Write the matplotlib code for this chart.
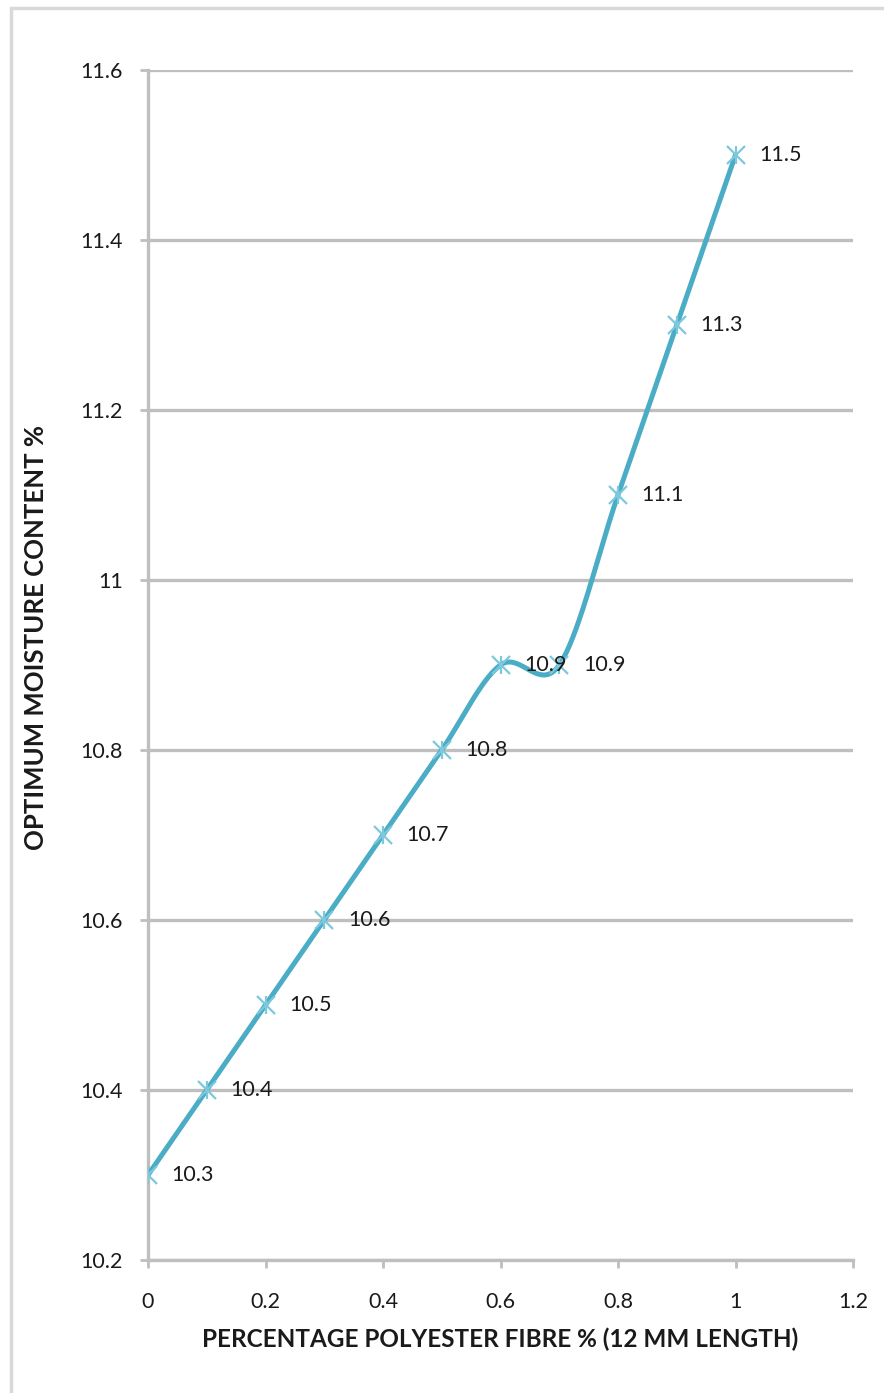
import numpy as np
import matplotlib
matplotlib.use("Agg")
import matplotlib.pyplot as plt
from matplotlib.patches import Rectangle

fibre = [0, 0.1, 0.2, 0.3, 0.4, 0.5, 0.6, 0.7, 0.8, 0.9, 1.0]
moisture = [10.3, 10.4, 10.5, 10.6, 10.7, 10.8, 10.9, 10.9, 11.1, 11.3, 11.5]
x_ticks = [0, 0.2, 0.4, 0.6, 0.8, 1.0, 1.2]
x_tick_labels = ["0", "0.2", "0.4", "0.6", "0.8", "1", "1.2"]
y_ticks = [10.2, 10.4, 10.6, 10.8, 11.0, 11.2, 11.4, 11.6]
y_tick_labels = ["10.2", "10.4", "10.6", "10.8", "11", "11.2", "11.4", "11.6"]
x_label = "PERCENTAGE POLYESTER FIBRE % (12 MM LENGTH)"
y_label = "OPTIMUM MOISTURE CONTENT %"

plt.rcParams['font.family'] = ['Lato', 'DejaVu Sans']
W, H = 884, 1393
fig = plt.figure(figsize=(W / 100, H / 100), dpi=100)
fig.patches.append(Rectangle((11 / W, -0.1), 1.2, (H - 8) / H + 0.1,
                             transform=fig.transFigure, fill=False,
                             edgecolor='#d9d9d9', linewidth=2.5))

ax = fig.add_axes([148 / W, 1 - 1260 / H, (853 - 148) / W, (1260 - 70) / H])

color = '#4bacc6'


def catmull_rom(xs, ys, n=30, tension=0.5):
    xs = np.asarray(xs, float)
    ys = np.asarray(ys, float)
    px = np.concatenate([[xs[0]], xs, [xs[-1]]])
    py = np.concatenate([[ys[0]], ys, [ys[-1]]])
    outx, outy = [], []
    for i in range(1, len(px) - 2):
        p0 = np.array([px[i - 1], py[i - 1]])
        p1 = np.array([px[i], py[i]])
        p2 = np.array([px[i + 1], py[i + 1]])
        p3 = np.array([px[i + 2], py[i + 2]])
        m1 = (p2 - p0) * tension
        m2 = (p3 - p1) * tension
        t = np.linspace(0, 1, n)[:, None]
        h00 = 2 * t**3 - 3 * t**2 + 1
        h10 = t**3 - 2 * t**2 + t
        h01 = -2 * t**3 + 3 * t**2
        h11 = t**3 - t**2
        pts = h00 * p1 + h10 * m1 + h01 * p2 + h11 * m2
        outx.extend(pts[:, 0])
        outy.extend(pts[:, 1])
    return np.array(outx), np.array(outy)


sx, sy = catmull_rom(fibre, moisture, n=40, tension=0.5)
ax.plot(sx, sy, color=color, linewidth=3.6, solid_capstyle='round', zorder=3)
ax.plot(fibre, moisture, linestyle='none', marker='x', markersize=13,
        markeredgewidth=1.6, color='#7cc8dc', zorder=4)
ax.plot(fibre, moisture, linestyle='none', marker='|', markersize=13,
        markeredgewidth=1.6, color='#7cc8dc', zorder=4)

for xv, yv in zip(fibre, moisture):
    ax.annotate(f"{yv:g}", (xv, yv), xytext=(17, 0), textcoords='offset points',
                ha='left', va='center', fontsize=15.5, color='#1a1a1a', zorder=5)

ax.set_xlim(0, 1.2)
ax.set_ylim(10.2, 11.6)
ax.set_xticks(x_ticks)
ax.set_xticklabels(x_tick_labels)
ax.set_yticks(y_ticks)
ax.set_yticklabels(y_tick_labels)
ax.grid(axis='y', color='#bfbfbf', linewidth=2.4)
ax.set_axisbelow(True)
for s in ['top', 'right']:
    ax.spines[s].set_visible(False)
for s in ['left', 'bottom']:
    ax.spines[s].set_color('#bfbfbf')
    ax.spines[s].set_linewidth(2.4)
ax.tick_params(axis='both', colors='#bfbfbf', width=2, length=6,
               labelcolor='#1a1a1a', labelsize=15.5)
ax.tick_params(axis='y', pad=12)
ax.tick_params(axis='x', pad=17)

ax.set_xlabel(x_label, fontsize=17.5, fontweight='bold', color='#1a1a1a')
ax.xaxis.set_label_coords(0.5, (1260 - 1328) / 1190)
ax.set_ylabel(y_label, fontsize=18.5, fontweight='bold', color='#1a1a1a')
ax.yaxis.set_label_coords((48 - 148) / 705, (1260 - 637) / 1190)

fig.savefig("out.png", dpi=100)
